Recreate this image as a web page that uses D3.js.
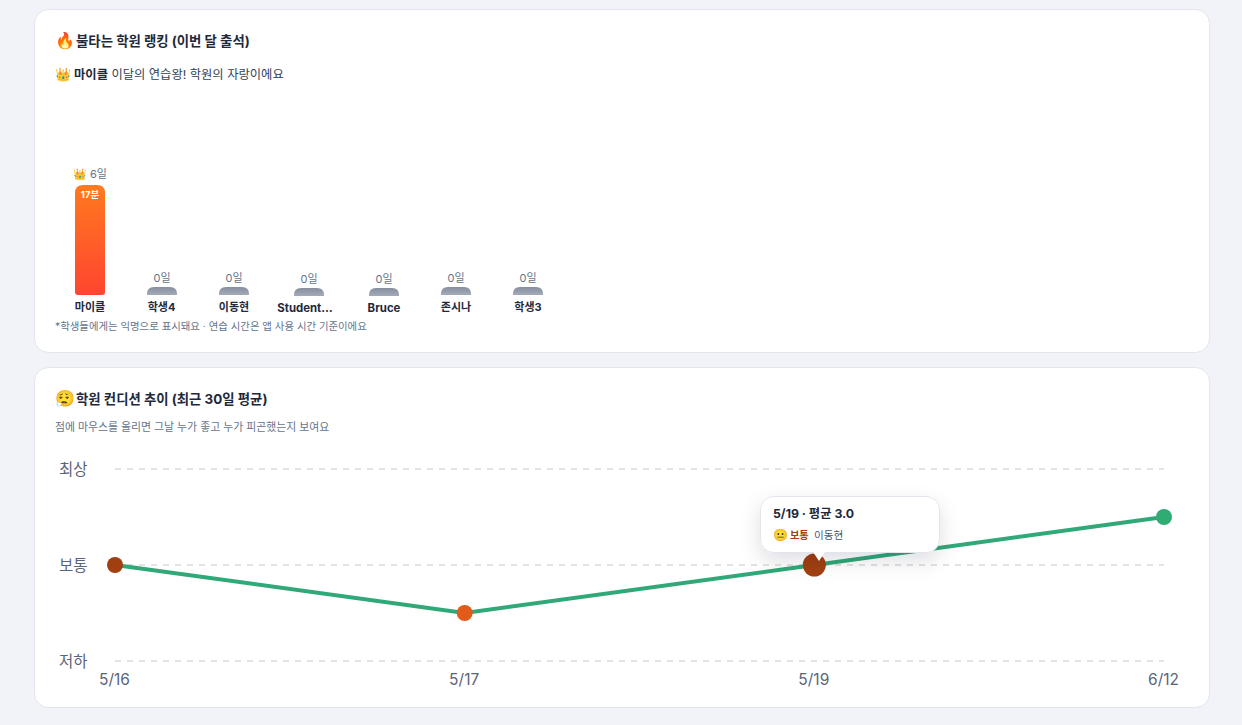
<!DOCTYPE html>
<html lang="ko"><head><meta charset="utf-8">
<script src="https://cdn.jsdelivr.net/npm/d3@7"></script>
<style>
html,body{margin:0;padding:0;background:#f1f3f8;overflow:hidden}
svg{display:block}
text{font-family:Inter,"Noto Sans CJK KR","Noto Color Emoji",sans-serif}
</style></head><body><div id="chart"></div>
<script>
const rankNames=["마이클","학생4","이동현","Student…","Bruce","존시나","학생3"];
const rankDays=[6,0,0,0,0,0,0];
const rankMinutes=[17,0,0,0,0,0,0];
const rankCentres=[90,162,234,309,384,456,528];
const rankBase=[295,295,295,296,296,295,295];
const condDates=["5/16","5/17","5/19","6/12"];
const condValues=[3.0,2.5,3.0,3.5];
const condColors=["#a04010","#e35b1b","#a04010","#2fab74"];
const condTicks=[2,3,4];
const condTickLabels=["저하","보통","최상"];

const W=1242,H=725;
const svg=d3.select("#chart").append("svg").attr("width",W).attr("height",H);
const defs=svg.append("defs");
const g1=defs.append("linearGradient").attr("id","hot").attr("x1",0).attr("y1",0).attr("x2",0).attr("y2",1);
g1.append("stop").attr("offset","0%").attr("stop-color","#ff7a1e");
g1.append("stop").attr("offset","100%").attr("stop-color","#ff4530");
const g2=defs.append("linearGradient").attr("id","cold").attr("x1",0).attr("y1",0).attr("x2",0).attr("y2",1);
g2.append("stop").attr("offset","0%").attr("stop-color","#868e9f");
g2.append("stop").attr("offset","100%").attr("stop-color","#a3abba");
const sh=defs.append("filter").attr("id","shadow").attr("x","-30%").attr("y","-50%").attr("width","160%").attr("height","220%");
sh.append("feDropShadow").attr("dx",0).attr("dy",8).attr("stdDeviation",10).attr("flood-color","#0f172a").attr("flood-opacity",0.13);

function card(y,h){svg.append("rect").attr("x",34.5).attr("y",y).attr("width",1175).attr("height",h).attr("rx",14).attr("fill","#fff").attr("stroke","#e2e5ec");}
card(9.5,343);card(367.5,340);

function txt(x,y,s,size,weight,color,anchor){
  return svg.append("text").attr("x",x).attr("y",y).text(s).attr("font-size",size).attr("font-weight",weight).attr("fill",color).attr("text-anchor",anchor||"start");
}
txt(55,46,"🔥",16,400,"#000");
txt(76,46,"불타는 학원 랭킹 (이번 달 출석)",13.4,700,"#1e293b");
txt(55,79,"👑",13,400,"#000");
const sub=txt(74,79,"",12.3,400,"#334155");
sub.append("tspan").attr("font-weight",700).attr("fill","#1e293b").text("마이클");
sub.append("tspan").text(" 이달의 연습왕! 학원의 자랑이에요");

const xRank=d3.scaleOrdinal().domain(rankNames).range(rankCentres);
const hRank=d3.scaleLinear().domain([0,6]).range([8,110]);
const barW=30;
function barPath(x,base,h,rt,rb){
  const p=d3.path();const l=x-barW/2,r=x+barW/2,t=base-h;
  p.moveTo(l,t+rt);p.quadraticCurveTo(l,t,l+rt,t);p.lineTo(r-rt,t);p.quadraticCurveTo(r,t,r,t+rt);
  p.lineTo(r,base-rb);p.quadraticCurveTo(r,base,r-rb,base);p.lineTo(l+rb,base);p.quadraticCurveTo(l,base,l,base-rb);p.closePath();
  return p.toString();
}
rankNames.forEach((n,i)=>{
  const cx=xRank(n),base=rankBase[i],h=hRank(rankDays[i]);
  svg.append("path").attr("d",barPath(cx,base,h,rankDays[i]?8:7,rankDays[i]?3:0)).attr("fill",rankDays[i]?"url(#hot)":"url(#cold)");
  if(rankDays[i]){
    txt(cx-17,178,"👑",11,400,"#000");
    txt(cx,178,rankDays[i]+"일",11,400,"#64748b");
    txt(cx,198,rankMinutes[i]+"분",9.5,700,"#fff","middle");
  } else {
    txt(cx,base-13,rankDays[i]+"일",11,400,"#64748b","middle");
  }
  txt(cx-(n.length>6?4:0)-(i===1?0.5:0),base+16,n,/[A-Za-z]/.test(n)?11.4:11,700,"#1e293b","middle");
});
txt(55,330,"*학생들에게는 익명으로 표시돼요 · 연습 시간은 앱 사용 시간 기준이에요",10.4,400,"#64748b");

txt(55,404,"😮‍💨",16,400,"#000");
txt(76,404,"학원 컨디션 추이 (최근 30일 평균)",13.4,700,"#1e293b");
txt(55,431,"점에 마우스를 올리면 그날 누가 좋고 누가 피곤했는지 보여요",10.87,400,"#64748b");

const x=d3.scalePoint().domain(condDates).range([115,1164]);
const y=d3.scaleLinear().domain([2,4]).range([661,469]);
const axisY=svg.append("g").attr("transform","translate(87.5,1)").call(d3.axisLeft(y).tickValues(condTicks).tickFormat((d,i)=>condTickLabels[i]).tickSize(0));
axisY.select(".domain").remove();
axisY.selectAll("text").attr("font-size",15.5).attr("fill","#5b6579").attr("x",0).attr("dy","0.32em").style("font-family",'Inter,"Noto Sans CJK KR",sans-serif');
const axisX=svg.append("g").attr("transform","translate(0,673.5)").call(d3.axisBottom(x).tickSize(0));
axisX.select(".domain").remove();
axisX.selectAll("text").attr("font-size",15.5).attr("fill","#5b6579").attr("y",0).attr("dy","0.71em").style("font-family",'Inter,"Noto Sans CJK KR",sans-serif');
axisX.selectAll("g").attr("transform",function(d){return "translate("+(x(d)-0.5)+",0)";});

svg.append("g").selectAll("line").data(condTicks).join("line")
  .attr("x1",115).attr("x2",1164).attr("y1",d=>y(d)).attr("y2",d=>y(d))
  .attr("stroke","#e1e3e9").attr("stroke-width",2).attr("stroke-dasharray","6 6");

svg.append("path").datum(condValues).attr("fill","none").attr("stroke","#30a878").attr("stroke-width",4)
  .attr("d",d3.line().x((d,i)=>x(condDates[i])).y(d=>y(d)));
svg.append("g").selectAll("circle").data(condValues).join("circle")
  .attr("cx",(d,i)=>x(condDates[i])).attr("cy",d=>y(d)).attr("r",(d,i)=>i===2?11.5:8).attr("fill",(d,i)=>condColors[i]);

// tooltip
const tx=761,ty=497,tw=178,th=55;
svg.append("rect").attr("x",tx-.5).attr("y",ty-.5).attr("width",tw+1).attr("height",th+1).attr("rx",13).attr("fill","#fff").attr("stroke","#e2e5ec").attr("filter","url(#shadow)");
svg.append("path").attr("d",d3.line()([[813,552],[825,552],[819,561]])).attr("fill","#fff");
txt(773,518,"5/19 · 평균 3.0",12.3,700,"#1e293b");
txt(773,539,"😐",12,400,"#000");
txt(790,539,"보통",10.2,700,"#a04010");
txt(814,539,"이동현",10.6,400,"#475569");
</script></body></html>
